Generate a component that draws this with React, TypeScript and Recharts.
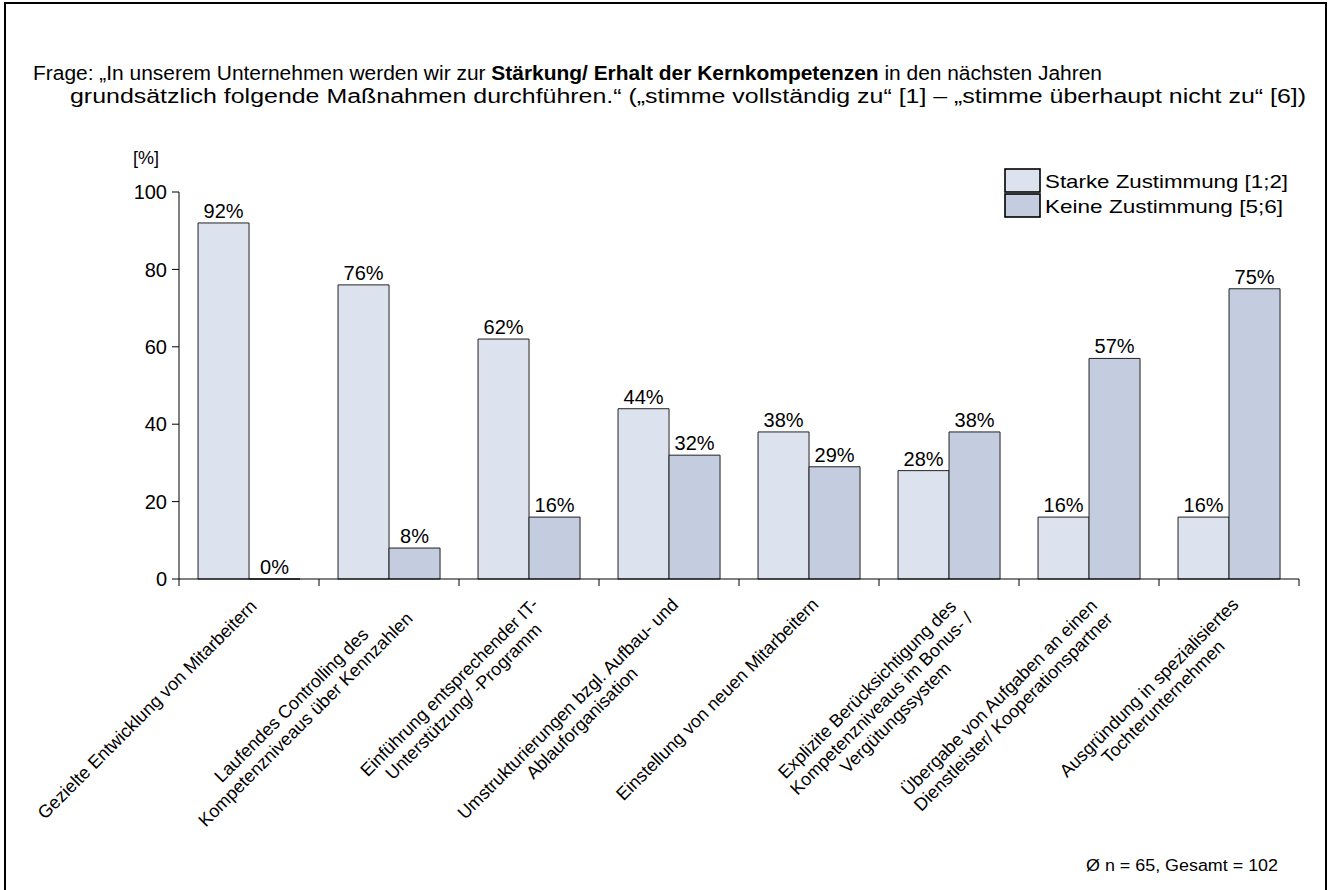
import React from 'react';
import { BarChart, Bar, XAxis, YAxis, LabelList, Legend } from 'recharts';

const categories = [
  'Gezielte Entwicklung  von Mitarbeitern',
  'Laufendes Controlling des\nKompetenzniveaus über Kennzahlen',
  'Einführung entsprechender IT-\nUnterstützung/  -Programm',
  'Umstrukturierungen bzgl. Aufbau- und\nAblauforganisation',
  'Einstellung von neuen Mitarbeitern',
  'Explizite Berücksichtigung des\nKompetenzniveaus im Bonus- /\nVergütungssystem',
  'Übergabe von Aufgaben an einen\nDienstleister/ Kooperationspartner',
  'Ausgründung in spezialisiertes\nTochterunternehmen',
];
const starkeZustimmung = [92, 76, 62, 44, 38, 28, 16, 16];
const keineZustimmung = [0, 8, 16, 32, 29, 38, 57, 75];
const yTicks = [0, 20, 40, 60, 80, 100];
const seriesNames = ['Starke Zustimmung [1;2]', 'Keine Zustimmung [5;6]'];
const seriesColors = ['#DDE3EE', '#C3CDDF'];

const data = categories.map((c, i) => ({
  name: c,
  starke: starkeZustimmung[i],
  keine: keineZustimmung[i],
}));

const W = 1330;
const H = 890;
const PLOT_LEFT = 179;
const PLOT_RIGHT = 1299;
const PLOT_TOP = 192;
const AXIS_Y = 579;
const XAXIS_H = 30;
const CAT_W = (PLOT_RIGHT - PLOT_LEFT) / categories.length;
const FONT = "'Liberation Sans', Arial, sans-serif";

let ctx: CanvasRenderingContext2D | null = null;
function measure(t: string, size: number) {
  if (!ctx && typeof document !== 'undefined') {
    ctx = document.createElement('canvas').getContext('2d');
  }
  if (!ctx) return t.length * size * 0.5;
  ctx.font = `${size}px 'Liberation Sans', Arial, sans-serif`;
  return ctx.measureText(t).width;
}

const XTick = (props: any) => {
  const { x, payload, index } = props;
  const lines: string[] = String(payload.value).split('\n');
  const fs = 18;
  const lh = 20;
  const widths = lines.map((l) => measure(l, fs));
  const Wmax = Math.max(...widths);
  const half = CAT_W / 2;
  return (
    <g>
      <line x1={x - half} x2={x - half} y1={AXIS_Y} y2={AXIS_Y + 7} stroke="#000" strokeWidth={1} />
      {index === categories.length - 1 && (
        <line x1={x + half} x2={x + half} y1={AXIS_Y} y2={AXIS_Y + 7} stroke="#000" strokeWidth={1} />
      )}
      <g transform={`translate(${x},${AXIS_Y + 16}) rotate(-45)`}>
        {lines.map((l, i) => (
          <text
            key={i}
            x={-Wmax / 2}
            y={15 + i * lh}
            textAnchor="middle"
            fontSize={fs}
            fontFamily={FONT}
            fill="#000"
          >
            {l}
          </text>
        ))}
      </g>
    </g>
  );
};

const ValueLabel = (props: any) => {
  const { x, y, width, height, value } = props;
  const top = Math.min(Number(y), Number(y) + Number(height));
  return (
    <text
      x={Number(x) + Number(width) / 2}
      y={top - 5}
      textAnchor="middle"
      fontSize={20}
      fontFamily={FONT}
      fill="#000"
    >
      {`${value}%`}
    </text>
  );
};

const LegendContent = () => (
  <svg width={320} height={62} style={{ display: 'block' }}>
    {seriesNames.map((n, i) => (
      <g key={n}>
        <rect x={5} y={9 + i * 25} width={35} height={23} fill={seriesColors[i]} stroke="#000" strokeWidth={1.6} />
        <text x={45} y={28 + i * 25} fontSize={19} fontFamily={FONT} fill="#000" textLength={i === 0 ? 243 : 238} lengthAdjust="spacingAndGlyphs">
          {n}
        </text>
      </g>
    ))}
  </svg>
);

const minSize = (v: any) => (Number(v) === 0 ? 0.01 : 0);

export default function App() {
  return (
    <div style={{ position: 'absolute', left: 0, top: 0, width: W, height: H, overflow: 'hidden', background: '#fff' }}>
      <BarChart
        width={W}
        height={H}
        data={data}
        margin={{ top: PLOT_TOP, right: W - PLOT_RIGHT, left: 0, bottom: H - AXIS_Y - XAXIS_H }}
        barCategoryGap="13.6%"
        barGap={0}
      >
        <XAxis
          dataKey="name"
          height={XAXIS_H}
          interval={0}
          tickLine={false}
          axisLine={{ stroke: '#000', strokeWidth: 1 }}
          tick={<XTick />}
        />
        <YAxis
          width={PLOT_LEFT}
          domain={[0, 100]}
          ticks={yTicks}
          interval={0}
          tickSize={7}
          tickMargin={5}
          axisLine={{ stroke: '#000', strokeWidth: 1 }}
          tickLine={{ stroke: '#000', strokeWidth: 1 }}
          tick={{ fontSize: 20, fill: '#000', fontFamily: FONT }}
        />
        <Legend
          layout="vertical"
          align="center"
          verticalAlign="middle"
          content={<LegendContent />}
          wrapperStyle={{ position: 'absolute', left: 1000, top: 160, width: 320, height: 62 }}
        />
        <Bar dataKey="starke" name={seriesNames[0]} fill={seriesColors[0]} stroke="#222" strokeWidth={1} minPointSize={minSize} isAnimationActive={false}>
          <LabelList dataKey="starke" content={<ValueLabel />} />
        </Bar>
        <Bar dataKey="keine" name={seriesNames[1]} fill={seriesColors[1]} stroke="#222" strokeWidth={1} minPointSize={minSize} isAnimationActive={false}>
          <LabelList dataKey="keine" content={<ValueLabel />} />
        </Bar>
      </BarChart>
      <svg width={W} height={H} style={{ position: 'absolute', left: 0, top: 0, pointerEvents: 'none' }}>
        <rect x={5} y={3} width={1321} height={H + 20} fill="none" stroke="#000" strokeWidth={2} />
        <text x={33} y={80} fontSize={20} fontFamily={FONT} fill="#000" textLength={1069} lengthAdjust="spacingAndGlyphs">
          {'Frage: „In unserem Unternehmen werden wir zur '}
          <tspan fontWeight="bold">{'Stärkung/ Erhalt der Kernkompetenzen'}</tspan>
          {' in den nächsten Jahren'}
        </text>
        <text x={70} y={103} fontSize={20} fontFamily={FONT} fill="#000" textLength={1236} lengthAdjust="spacingAndGlyphs">
          {'grundsätzlich folgende Maßnahmen durchführen.“ („stimme vollständig zu“ [1] – „stimme überhaupt nicht zu“ [6])'}
        </text>
        <text x={133} y={164} fontSize={18} fontFamily={FONT} fill="#000">[%]</text>
        <text x={1086} y={871} fontSize={16} fontFamily={FONT} fill="#000" textLength={192} lengthAdjust="spacingAndGlyphs">
          {'Ø n = 65, Gesamt = 102'}
        </text>
      </svg>
    </div>
  );
}
